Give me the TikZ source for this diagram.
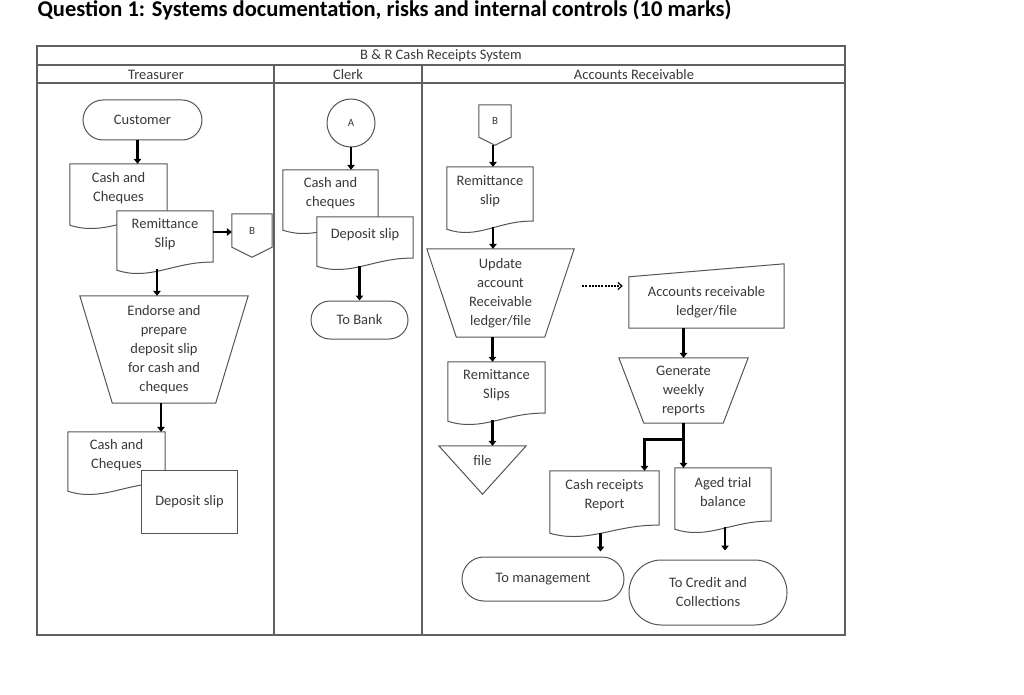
\documentclass[tikz,border=0pt]{standalone}
\usepackage{fontspec}
\setmainfont{Carlito}
\usepackage{tikz}
\usetikzlibrary{arrows.meta,shapes.misc,calc,backgrounds}
\definecolor{txtgray}{HTML}{3A3A3A}
\definecolor{linegray}{HTML}{555555}
\definecolor{framegray}{HTML}{606060}

\tikzset{
  box/.style 2 args={minimum width=#1, minimum height=#2, inner sep=0pt, align=center},
  terminal/.style={rounded rectangle, draw=linegray, line width=1pt, fill=white, align=center, inner sep=0pt},
  shapeline/.style={draw=linegray, line width=1pt, fill=white},
  lane/.style={draw=framegray, line width=1.3pt},
  lanehead/.style={font=\fontsize{14.5}{16}\selectfont},
  flow/.style={line width=2.6pt, -{Triangle[length=5pt,width=7.5pt]}},
  dotflow/.style={line width=1.2pt, dash pattern=on 2pt off 1.2pt, -{Straight Barb[length=4pt,width=7pt]}},
}

% document with wavy lower edge
\newcommand{\docshape}[1]{%
  \filldraw[shapeline] (#1.north west) -- (#1.north east) -- ([yshift=-5pt]#1.south east)
    .. controls ($(#1.south west)!0.6!(#1.south east)+(0,-4pt)$) and ($(#1.south west)!0.35!(#1.south east)+(0,-24pt)$) .. ([yshift=-13pt]#1.south west) -- cycle;}
% manual operation
\newcommand{\trapshape}[2]{%
  \filldraw[shapeline] (#1.north west) -- (#1.north east) -- ([xshift=-#2]#1.south east) -- ([xshift=#2]#1.south west) -- cycle;}
% off-page connector
\newcommand{\offshape}[2]{%
  \filldraw[shapeline] (#1.north west) -- (#1.north east) -- (#1.south east) -- ([yshift=-#2]#1.south) -- (#1.south west) -- cycle;}

\begin{document}
\begin{tikzpicture}[x=1pt, y=-1pt, every node/.style={font=\fontsize{14.5}{19}\selectfont, text=txtgray}]
\useasboundingbox (0,0) rectangle (1024,695);

% title and lanes
\node[anchor=west, font=\bfseries\fontsize{22.5}{26}\selectfont, text=black] (title) at (34,10) {Question 1: Systems documentation, risks and internal controls (10 marks)};
\draw[lane] (37,46) rectangle (845,635);
\draw[lane] (37,65) -- (845,65);
\draw[lane] (37,83) -- (845,83);
\draw[lane] (274,65) -- (274,635);
\draw[lane] (422,65) -- (422,635);
\node[lanehead] (sys) at (441,56) {B \& R Cash Receipts System};
\node[lanehead] (treas) at (156,74.5) {Treasurer};
\node[lanehead] (clerk) at (348,74.5) {Clerk};
\node[lanehead] (recv) at (634,74.5) {Accounts Receivable};

% Treasurer
\node[terminal, minimum width=119pt, minimum height=40pt] (cust) at (142.5,120) {Customer};
\node[box={97pt}{48pt}] (cash1) at (118.5,188) {Cash and\\Cheques};
\node[box={96pt}{46pt}] (remit1) at (165,234) {Remittance\\Slip};
\node[box={40pt}{33pt}, font=\fontsize{11}{12}\selectfont] (offB1) at (252,230.5) {B};
\node[box={168pt}{107pt}] (endorse) at (164,349.5) {Endorse and\\prepare\\deposit slip\\for cash and\\cheques};
\node[box={97pt}{46pt}] (cash2) at (116.5,455) {Cash and\\Cheques};
\node[box={95pt}{63pt}] (dep1) at (189.5,502) {Deposit slip};

% Clerk
\node[circle, draw=linegray, line width=1pt, fill=white, minimum size=48pt, inner sep=0pt, font=\fontsize{11}{12}\selectfont] (conA) at (351,123) {A};
\node[box={95pt}{47pt}] (cash3) at (330.5,193.5) {Cash and\\cheques};
\node[box={96pt}{36pt}] (dep2) at (365,235) {Deposit slip};
\node[terminal, minimum width=97pt, minimum height=38pt] (bank) at (359.5,320) {To Bank};

% Accounts Receivable
\node[box={32pt}{32pt}, font=\fontsize{11}{12}\selectfont] (offB2) at (495,121) {B};
\node[box={86pt}{49pt}] (remit2) at (490,191.5) {Remittance\\slip};
\node[box={147pt}{88pt}] (upd) at (500.5,293) {Update\\account\\Receivable\\ledger/file};
\node[box={97pt}{46pt}] (remit3) at (496.5,385) {Remittance\\Slips};
\node[box={87pt}{30pt}] (file) at (482.5,461) {file};
\node[box={155pt}{51pt}] (ledger) at (706.5,302.5) {Accounts receivable\\ledger/file};
\node[box={129pt}{65pt}] (gen) at (683.5,390.5) {Generate\\weekly\\reports};
\node[box={109pt}{49pt}] (cashrep) at (604.5,495.5) {Cash receipts\\Report};
\node[box={96pt}{48pt}] (aged) at (723,492) {Aged trial\\balance};
\node[terminal, minimum width=162pt, minimum height=44pt] (mgmt) at (543,579) {To management};
\node[terminal, minimum width=158pt, minimum height=65pt] (credit) at (708,592.5) {To Credit and\\Collections};

\begin{scope}[on background layer]
\fill[white] (0,0) rectangle (1024,695);
\docshape{cash1}
\docshape{remit1}
\offshape{offB1}{10pt}
\trapshape{endorse}{32.5pt}
\docshape{cash2}
\filldraw[shapeline] (dep1.north west) rectangle (dep1.south east);
\docshape{cash3}
\docshape{dep2}
\offshape{offB2}{8pt}
\docshape{remit2}
\trapshape{upd}{29.5pt}
\docshape{remit3}
\filldraw[shapeline] (file.north west) -- (file.north east) -- ([yshift=-18pt]file.south) -- cycle;
\filldraw[shapeline] (ledger.north west) -- ([yshift=13pt]ledger.north east) -- (ledger.south east) -- (ledger.south west) -- cycle;
\trapshape{gen}{25pt}
\docshape{cashrep}
\docshape{aged}
\end{scope}

% flows
\draw[flow] ([xshift=-5pt]cust.south) -- ([xshift=-5pt]cust.south |- cash1.north);
\draw[flow] ([yshift=2pt]remit1.east) -- ([yshift=2pt]remit1.east -| offB1.west);
\draw[flow] ($(remit1.south)+(-8pt,-12pt)$) -- ($(remit1.south |- endorse.north)+(-8pt,0)$);
\draw[flow] ([xshift=-3pt]endorse.south) -- ([xshift=-3pt]endorse.south |- cash2.north);
\draw[flow] (conA.south) -- (conA.south |- cash3.north);
\draw[flow] ($(bank.north |- dep2.south)+(0,-13pt)$) -- (bank.north);
\draw[flow] ($(offB2.south)+(-2pt,-8pt)$) -- ($(offB2.south |- remit2.north)+(-2pt,0)$);
\draw[flow] ($(remit2.south)+(3pt,-11pt)$) -- ($(remit2.south |- upd.north)+(3pt,0)$);
\draw[flow] ([xshift=-8pt]upd.south) -- ([xshift=-8pt]upd.south |- remit3.north);
\draw[flow] ($(file.north |- remit3.south)+(10pt,-12pt)$) -- ($(file.north)+(10pt,0)$);
\draw[dotflow] ($(upd.east)+(8pt,7pt)$) -- ($(upd.east -| ledger.west)+(-6pt,7pt)$);
\draw[flow] (gen.north |- ledger.south) -- (gen.north);
\draw[flow] (gen.south) -- (gen.south |- aged.north);
\coordinate (split) at ($(gen.south)+(0,-16pt)$);
\draw[flow] (split) -| ($(cashrep.north)+(40pt,0)$);
\draw[flow] ($(cashrep.south)+(-4pt,-13pt)$) -- ($(cashrep.south |- mgmt.north)+(-4pt,5pt)$);
\draw[flow] ($(aged.south)+(2pt,-11pt)$) -- ($(aged.south |- credit.north)+(2pt,9pt)$);
\end{tikzpicture}
\end{document}
